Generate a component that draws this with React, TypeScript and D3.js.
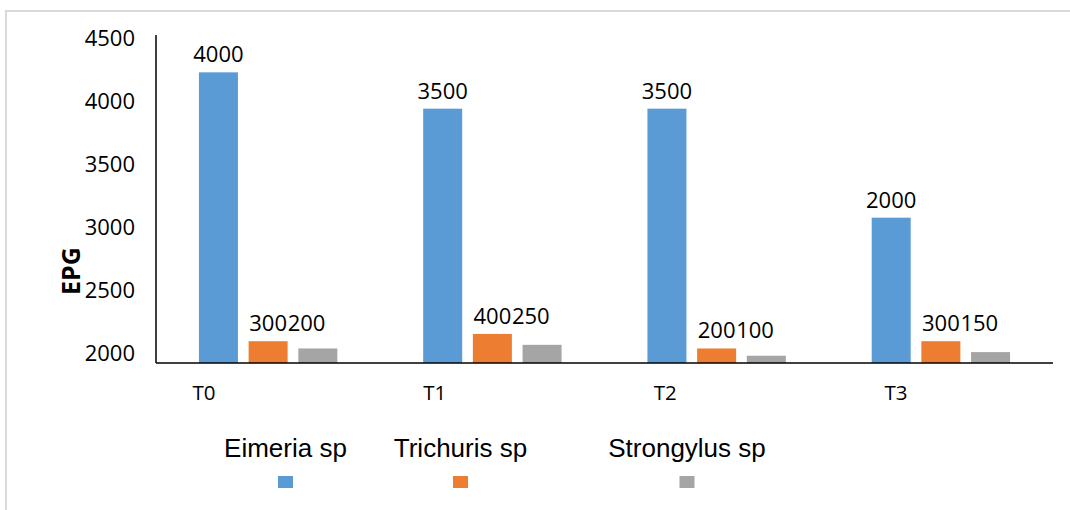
import React from "react";
import * as d3 from "d3";

const categories = ["T0", "T1", "T2", "T3"];
const seriesNames = ["Eimeria sp", "Trichuris sp", "Strongylus sp"];
const eimeria = [4000, 3500, 3500, 2000];
const trichuris = [300, 400, 200, 300];
const strongylus = [200, 250, 100, 150];
const tickLabels = ["4500", "4000", "3500", "3000", "2500", "2000"];
const colors = ["#5b9bd5", "#ed7d31", "#a5a5a5"];

const W = 1070;
const H = 510;
const layout = {
  left: 156,
  right: 1053,
  base: 363,
  top: 36,
  axisTop: 35,
  tickX: 135,
  tickTop: 38,
  tickBottom: 353,
  catLeft: 204,
  catRight: 896,
  catY: 393,
  legendX: [285.5, 460.5, 687],
  legendTextY: 457,
  legendBoxY: 476,
};

export default function App() {
  const values = [eimeria, trichuris, strongylus];
  const y = d3.scaleLinear().domain([0, 4500]).range([layout.base, layout.top]);
  const x0 = d3.scaleBand().domain(categories).range([layout.left, layout.right]).padding(0);
  const x1 = d3
    .scaleBand()
    .domain(seriesNames)
    .range([0, x0.bandwidth()])
    .paddingInner(0.215)
    .paddingOuter(0.864);
  const tickY = d3.scalePoint().domain(tickLabels).range([layout.tickTop, layout.tickBottom]);
  const catX = d3.scalePoint().domain(categories).range([layout.catLeft, layout.catRight]);
  const num = "'Open Sans', sans-serif";

  return (
    <svg width={W} height={H} style={{ position: "absolute", left: 0, top: 0, background: "#fff" }}>
      <rect x={0} y={0} width={W} height={H} fill="#fff" />
      <path d={`M6,${H} V11 H${W}`} fill="none" stroke="#d9d9d9" strokeWidth={2} />
      {categories.map((c, ci) => (
        <g key={c}>
          {seriesNames.map((s, si) => {
            const v = values[si][ci];
            const bx = (x0(c) as number) + (x1(s) as number);
            return (
              <rect
                key={s}
                x={bx}
                y={y(v)}
                width={x1.bandwidth()}
                height={layout.base - y(v)}
                fill={colors[si]}
              />
            );
          })}
          {(() => {
            const bxE = (x0(c) as number) + (x1(seriesNames[0]) as number);
            const bxT = (x0(c) as number) + (x1(seriesNames[1]) as number);
            return (
              <g fontFamily={num} fontSize={22} fill="#000">
                <text x={bxE + x1.bandwidth() / 2} y={y(eimeria[ci]) - 10} textAnchor="middle">
                  {eimeria[ci]}
                </text>
                <text x={bxT + x1.bandwidth() / 2} y={y(trichuris[ci]) - 10} textAnchor="middle">
                  {trichuris[ci]}
                </text>
                <text x={bxT + x1.bandwidth()} y={y(trichuris[ci]) - 10} textAnchor="start">
                  {strongylus[ci]}
                </text>
              </g>
            );
          })()}
        </g>
      ))}
      <line x1={layout.left} x2={layout.left} y1={layout.axisTop} y2={layout.base} stroke="#000" strokeWidth={1.5} />
      <line x1={layout.left} x2={layout.right} y1={layout.base} y2={layout.base} stroke="#000" strokeWidth={1.5} />
      {tickLabels.map((t) => (
        <text
          key={t}
          x={layout.tickX}
          y={tickY(t) as number}
          dy="0.36em"
          textAnchor="end"
          fontFamily={num}
          fontSize={22}
          fill="#000"
        >
          {t}
        </text>
      ))}
      <text
        transform={`translate(80,271) rotate(-90)`}
        textAnchor="middle"
        fontFamily={num}
        fontWeight="bold"
        fontSize={25}
        fill="#000"
      >
        EPG
      </text>
      {categories.map((c) => (
        <text
          key={c}
          x={catX(c) as number}
          y={layout.catY}
          dy="0.36em"
          textAnchor="middle"
          fontFamily={num}
          fontSize={20.5}
          fill="#000"
        >
          {c}
        </text>
      ))}
      {seriesNames.map((s, i) => (
        <g key={s}>
          <text
            x={layout.legendX[i]}
            y={layout.legendTextY}
            textAnchor="middle"
            fontFamily="'Liberation Sans', Arial, sans-serif"
            fontSize={26}
            fill="#000"
          >
            {s}
          </text>
          <rect x={layout.legendX[i] - 7.5} y={layout.legendBoxY} width={15} height={12} fill={colors[i]} />
        </g>
      ))}
    </svg>
  );
}
